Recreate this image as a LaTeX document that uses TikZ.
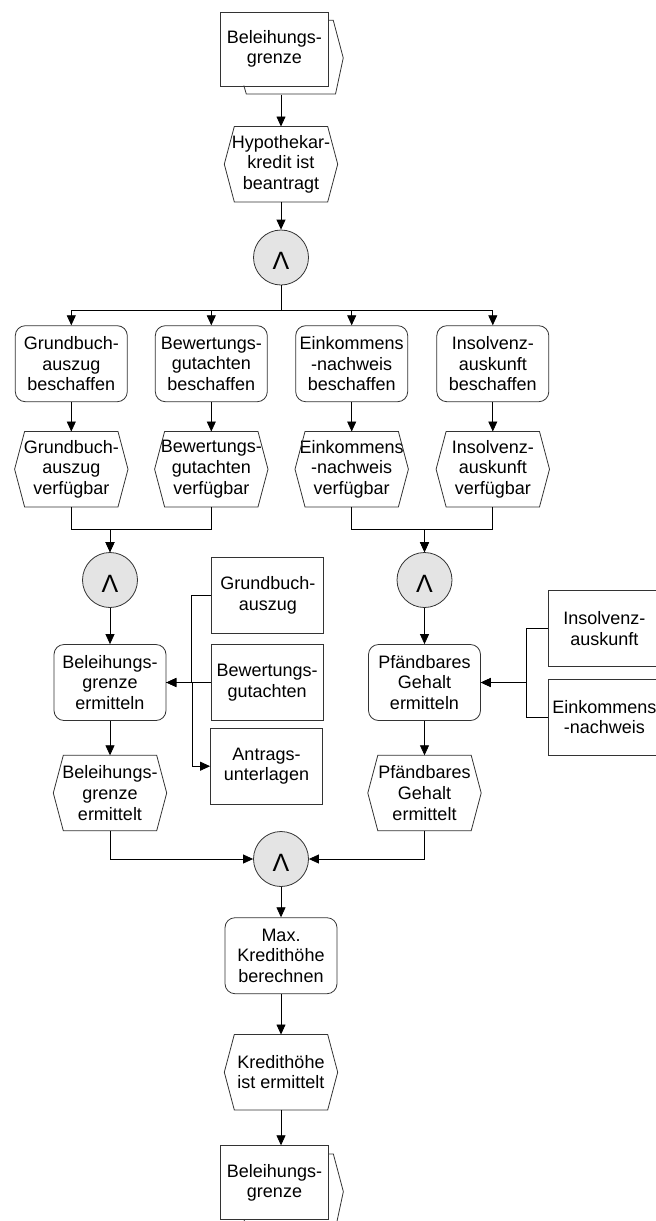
\documentclass[tikz,border=0pt]{standalone}
\usepackage{fontspec}
\setmainfont{Liberation Sans}
\usetikzlibrary{arrows.meta,calc}
\definecolor{edge}{HTML}{333333}
\definecolor{andfill}{HTML}{E4E4E4}
\begin{document}
\begin{tikzpicture}[x=1pt,y=-1pt,
  every node/.style={font=\fontsize{18}{20.6}\selectfont, align=center, inner sep=0pt},
  func/.style={draw=edge, line width=.8pt, rounded corners=10pt, minimum width=112pt, minimum height=76pt},
  evt/.style={minimum width=113pt, minimum height=75pt},
  doc/.style={draw=edge, line width=.8pt, minimum width=112pt, minimum height=76pt},
  iface/.style={draw=edge, line width=.8pt, fill=white, minimum width=107.5pt, minimum height=74pt},
  andop/.style={circle, draw=edge, line width=.8pt, fill=andfill, minimum size=55pt},
  arr/.style={draw=black, line width=.8pt, -{Triangle[length=10pt,width=9pt]}},
  hexline/.style={draw=edge, line width=.8pt}
]
\useasboundingbox (0,0) rectangle (656,1221);
\clip (0,0) rectangle (656,1221);

% AND operator symbol
\newcommand{\andsym}{\raisebox{-12pt}[0pt][0pt]{\fontsize{25}{25}\selectfont Λ}}

% process interface (top)
\node[iface] (if1) at (274.4,49) {Beleihungs-\\grenze};
\draw[hexline] ($(if1.north east)+(0,8.7)$) -- ++(4.7,0) -- ++(10,37.6) -- ++(-7.7,36) -- ++(-89.3,0) -- ++(-2.4,-8.3);
\coordinate (if1out) at ($(if1.south)+(6.6,8.3)$);

% start event and split
\node[evt] (e0) at (281,164.2) {Hypothekar-\\kredit ist\\beantragt};
\node[andop] (and1) at (281,257.5) {\andsym};
\coordinate (bus) at (0,310);

% functions and events of the four parallel branches
\node[func] (f1) at (71.3,363.7) {Grundbuch-\\auszug\\beschaffen};
\node[func] (f2) at (211.3,363.7) {Bewertungs-\\gutachten\\beschaffen};
\node[func] (f3) at (351.7,363.7) {Einkommens\\-nachweis\\beschaffen};
\node[func] (f4) at (492.8,363.7) {Insolvenz-\\auskunft\\beschaffen};

\node[evt] (e1) at (71.3,469.2) {Grundbuch-\\auszug\\verfügbar};
\node[evt] (e2) at (211.3,469.2) {Bewertungs-\\gutachten\\verfügbar};
\node[evt] (e3) at (351.7,469.2) {Einkommens\\-nachweis\\verfügbar};
\node[evt] (e4) at (492.8,469.2) {Insolvenz-\\auskunft\\verfügbar};

% joins
\node[andop] (and2) at (110,580) {\andsym};
\node[andop] (and3) at (424.5,580) {\andsym};

\node[func] (f5) at (110,682.5) {Beleihungs-\\grenze\\ermitteln};
\node[func] (f6) at (424.5,682.5) {Pfändbares\\Gehalt\\ermitteln};

\node[evt] (e5) at (110,793) {Beleihungs-\\grenze\\ermittelt};
\node[evt] (e6) at (424.5,793) {Pfändbares\\Gehalt\\ermittelt};

% information objects
\node[doc] (d1) at (267.8,595.3) {Grundbuch-\\auszug};
\node[doc] (d2) at (267.2,682.5) {Bewertungs-\\gutachten};
\node[doc] (d3) at (266.5,766.2) {Antrags-\\unterlagen};
\node[doc] (d4) at (604.3,628.3) {Insolvenz-\\auskunft};
\node[doc] (d5) at (604.3,717) {Einkommens\\-nachweis};

% final part
\node[andop] (and4) at (281,859) {\andsym};
\node[func] (f7) at (281,955.7) {Max.\\Kredithöhe\\berechnen};
\node[evt] (e7) at (281,1072.2) {Kredithöhe\\ist ermittelt};

% process interface (bottom)
\node[iface] (if2) at (274.5,1182.7) {Beleihungs-\\grenze};
\draw[hexline] ($(if2.north east)+(0,8.7)$) -- ++(4.7,0) -- ++(10,37.6) -- ++(-7.7,36) -- ++(-89.3,0) -- ++(-2.4,-8.3);

% hexagonal event outlines
\foreach \n in {e0,e1,e2,e3,e4,e5,e6,e7}
  \draw[hexline] ($(\n.north west)+(10,0)$) -- ($(\n.north east)+(-10,0)$) -- (\n.east)
    -- ($(\n.south east)+(-10,0)$) -- ($(\n.south west)+(10,0)$) -- (\n.west) -- cycle;

% control flow
\draw[arr] (if1out) -- (if1out |- e0.north);
\draw[arr] (e0.south) -- (and1.north);
\foreach \f in {f1,f2,f3,f4}
  \draw[arr] (and1.south) -- (and1.south |- bus) -| (\f.north);
\foreach \f/\e in {f1/e1,f2/e2,f3/e3,f4/e4,f5/e5,f6/e6,f7/e7}
  \draw[arr] (\f.south) -- (\e.north);
\draw[arr] (e1.south) -- ++(0,22.6) -| (and2.north);
\draw[arr] (e2.south) -- ++(0,22.6) -| (and2.north);
\draw[arr] (e3.south) -- ++(0,22.6) -| (and3.north);
\draw[arr] (e4.south) -- ++(0,22.6) -| (and3.north);
\draw[arr] (and2.south) -- (f5.north);
\draw[arr] (and3.south) -- (f6.north);
\draw[arr] (e5.south) |- (and4.west);
\draw[arr] (e6.south) |- (and4.east);
\draw[arr] (and4.south) -- (f7.north);
\draw[arr] (e7.south) -- (e7.south |- if2.north);

% information flow
\draw[arr] (d1.west) -- ++(-20,0) |- (f5.east);
\draw[arr] (d2.west) -- (f5.east);
\draw[arr] (f5.east) -- ++(25.7,0) |- (d3.west);
\draw[arr] (d4.west) -- ++(-21.6,0) |- (f6.east);
\draw[arr] (d5.west) -- ++(-21.6,0) |- (f6.east);
\end{tikzpicture}
\end{document}
